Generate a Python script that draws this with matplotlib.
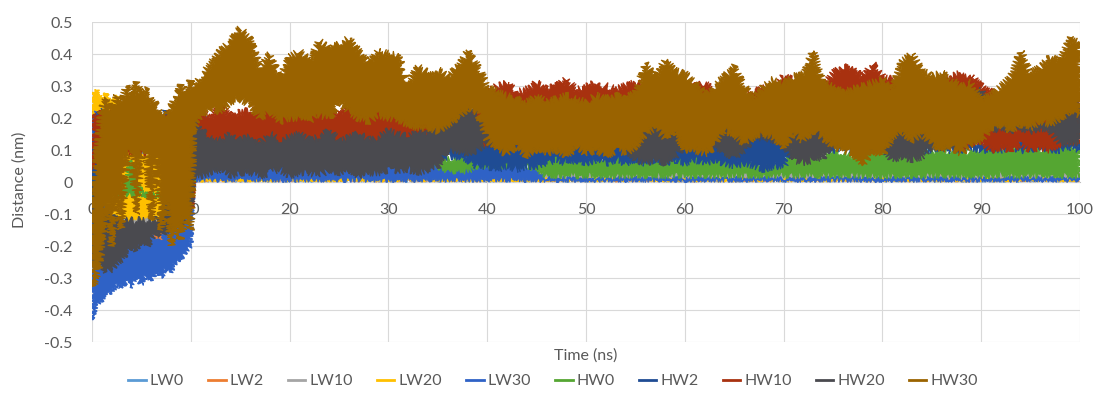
import numpy as np
import matplotlib
matplotlib.use("Agg")
import matplotlib.pyplot as plt
from matplotlib.lines import Line2D

# ─────────────────────────────────────────
# Data: lower / upper extent of each trace
# (0-10 ns every 0.5 ns, then 10.3 ns, then every 1 ns up to 100 ns)
# ─────────────────────────────────────────
time_ns = list(np.arange(0, 10.01, 0.5)) + [10.3] + list(range(11, 101))

series_names = ["LW0", "LW2", "LW10", "LW20", "LW30",
                "HW0", "HW2", "HW10", "HW20", "HW30"]

lw0_lo = [-0.25, -0.22, -0.2, -0.22, -0.2, -0.18, -0.2, -0.19, -0.18, -0.2, -0.17, -0.19, -0.18, -0.16, -0.17, -0.15, -0.16, -0.14, -0.13, -0.12, -0.1, 0.006,
          0.006, 0.005, 0.007, 0.005, 0.006, 0.006, 0.006, 0.005, 0.007, 0.005,
          0.006, 0.005, 0.007, 0.005, 0.006, 0.006, 0.006, 0.005, 0.007, 0.005,
          0.006, 0.005, 0.007, 0.005, 0.006, 0.006, 0.006, 0.005, 0.007, 0.005,
          0.006, 0.005, 0.007, 0.005, 0.006, 0.006, 0.006, 0.005, 0.007, 0.005,
          0.006, 0.005, 0.007, 0.005, 0.006, 0.006, 0.006, 0.005, 0.007, 0.005,
          0.006, 0.005, 0.007, 0.005, 0.006, 0.006, 0.006, 0.005, 0.007, 0.005,
          0.006, 0.005, 0.007, 0.005, 0.006, 0.006, 0.006, 0.005, 0.007, 0.005,
          0.006, 0.005, 0.007, 0.005, 0.006, 0.006, 0.006, 0.005, 0.007, 0.005,
          0.006, 0.005, 0.007, 0.005, 0.006, 0.006, 0.006, 0.005, 0.007, 0.005]
lw0_hi = [0.15, 0.18, 0.16, 0.14, 0.15, 0.12, 0.14, 0.13, 0.12, 0.1, 0.12, 0.11, 0.1, 0.12, 0.1, 0.09, 0.1, 0.08, 0.07, 0.06, 0.05, 0.03,
          0.025, 0.03, 0.022, 0.028, 0.03, 0.024, 0.027, 0.031, 0.025, 0.028,
          0.025, 0.03, 0.022, 0.028, 0.03, 0.024, 0.027, 0.031, 0.025, 0.028,
          0.025, 0.03, 0.022, 0.028, 0.03, 0.024, 0.027, 0.031, 0.025, 0.028,
          0.025, 0.03, 0.022, 0.028, 0.03, 0.024, 0.027, 0.031, 0.025, 0.028,
          0.025, 0.03, 0.022, 0.028, 0.03, 0.024, 0.027, 0.031, 0.025, 0.028,
          0.025, 0.03, 0.022, 0.028, 0.03, 0.024, 0.027, 0.031, 0.025, 0.028,
          0.025, 0.03, 0.022, 0.028, 0.03, 0.024, 0.027, 0.031, 0.025, 0.028,
          0.025, 0.03, 0.022, 0.028, 0.03, 0.024, 0.027, 0.031, 0.025, 0.028,
          0.025, 0.03, 0.022, 0.028, 0.03, 0.024, 0.027, 0.031, 0.025, 0.028]

lw2_lo = [-0.22, -0.2, -0.21, -0.19, -0.2, -0.18, -0.19, -0.2, -0.18, -0.19, -0.2, -0.21, -0.2, -0.22, -0.21, -0.19, -0.18, -0.17, -0.15, -0.14, -0.12, 0.006,
          0.006, 0.007, 0.006, 0.007, 0.006, 0.007, 0.006, 0.007, 0.006, 0.007,
          0.006, 0.007, 0.006, 0.007, 0.006, 0.007, 0.006, 0.007, 0.006, 0.007,
          0.006, 0.007, 0.006, 0.007, 0.006, 0.007, 0.006, 0.007, 0.006, 0.007,
          0.006, 0.007, 0.006, 0.007, 0.006, 0.007, 0.006, 0.007, 0.006, 0.007,
          0.006, 0.007, 0.006, 0.007, 0.006, 0.007, 0.006, 0.007, 0.006, 0.007,
          0.006, 0.007, 0.006, 0.007, 0.006, 0.007, 0.006, 0.007, 0.006, 0.007,
          0.006, 0.007, 0.006, 0.007, 0.006, 0.007, 0.006, 0.007, 0.006, 0.007,
          0.006, 0.007, 0.006, 0.007, 0.006, 0.007, 0.006, 0.007, 0.006, 0.007,
          0.006, 0.007, 0.006, 0.007, 0.006, 0.007, 0.006, 0.007, 0.006, 0.007]
lw2_hi = [0.12, 0.1, 0.12, 0.11, 0.1, 0.09, 0.1, 0.08, 0.1, 0.09, 0.08, 0.07, 0.06, 0.05, 0.04, 0.05, 0.06, 0.05, 0.04, 0.03, 0.03, 0.025,
          0.02, 0.024, 0.019, 0.022, 0.025, 0.02, 0.023, 0.021, 0.024, 0.02,
          0.02, 0.024, 0.019, 0.022, 0.025, 0.02, 0.023, 0.021, 0.024, 0.02,
          0.02, 0.024, 0.019, 0.022, 0.025, 0.02, 0.023, 0.021, 0.024, 0.02,
          0.02, 0.024, 0.019, 0.022, 0.025, 0.02, 0.023, 0.021, 0.024, 0.02,
          0.02, 0.024, 0.019, 0.022, 0.025, 0.02, 0.023, 0.021, 0.024, 0.02,
          0.02, 0.024, 0.019, 0.022, 0.025, 0.02, 0.023, 0.021, 0.024, 0.02,
          0.02, 0.024, 0.019, 0.022, 0.025, 0.02, 0.023, 0.021, 0.024, 0.02,
          0.02, 0.024, 0.019, 0.022, 0.025, 0.02, 0.023, 0.021, 0.024, 0.02,
          0.02, 0.024, 0.019, 0.022, 0.025, 0.02, 0.023, 0.021, 0.024, 0.02]

lw10_lo = [-0.2, -0.18, -0.19, -0.17, -0.18, -0.16, -0.17, -0.15, -0.16, -0.14, -0.15, -0.13, -0.14, -0.12, -0.13, -0.11, -0.12, -0.1, -0.09, -0.08, -0.06, 0.006,
           0.006, 0.005, 0.007, 0.006, 0.005, 0.006, 0.007, 0.005, 0.006, 0.005,
           0.006, 0.005, 0.007, 0.006, 0.005, 0.006, 0.007, 0.005, 0.006, 0.005,
           0.006, 0.005, 0.007, 0.006, 0.005, 0.006, 0.007, 0.005, 0.006, 0.005,
           0.006, 0.005, 0.007, 0.006, 0.005, 0.006, 0.007, 0.005, 0.006, 0.005,
           0.006, 0.005, 0.007, 0.006, 0.005, 0.006, 0.007, 0.005, 0.006, 0.005,
           0.006, 0.005, 0.007, 0.006, 0.005, 0.006, 0.007, 0.005, 0.006, 0.005,
           0.006, 0.005, 0.007, 0.006, 0.005, 0.006, 0.007, 0.005, 0.006, 0.005,
           0.006, 0.005, 0.007, 0.006, 0.005, 0.006, 0.007, 0.005, 0.006, 0.005,
           0.006, 0.005, 0.007, 0.006, 0.005, 0.006, 0.007, 0.005, 0.006, 0.005]
lw10_hi = [0.15, 0.14, 0.12, 0.13, 0.11, 0.12, 0.1, 0.11, 0.09, 0.1, 0.08, 0.09, 0.07, 0.08, 0.06, 0.07, 0.05, 0.06, 0.05, 0.04, 0.04, 0.03,
           0.028, 0.024, 0.03, 0.026, 0.032, 0.025, 0.029, 0.027, 0.031, 0.026,
           0.028, 0.024, 0.03, 0.026, 0.032, 0.025, 0.029, 0.027, 0.031, 0.026,
           0.028, 0.024, 0.03, 0.026, 0.032, 0.025, 0.029, 0.027, 0.031, 0.026,
           0.028, 0.024, 0.03, 0.026, 0.032, 0.025, 0.029, 0.027, 0.031, 0.026,
           0.028, 0.024, 0.03, 0.026, 0.032, 0.025, 0.029, 0.027, 0.031, 0.026,
           0.028, 0.024, 0.03, 0.026, 0.032, 0.025, 0.029, 0.027, 0.031, 0.026,
           0.028, 0.024, 0.03, 0.026, 0.032, 0.025, 0.029, 0.027, 0.031, 0.026,
           0.028, 0.024, 0.03, 0.026, 0.032, 0.025, 0.029, 0.027, 0.031, 0.026,
           0.028, 0.024, 0.03, 0.026, 0.032, 0.025, 0.029, 0.027, 0.031, 0.026]

lw20_lo = [-0.14, -0.12, -0.1, -0.12, -0.1, -0.12, -0.11, -0.12, -0.12, -0.11, -0.12, -0.11, -0.12, -0.12, -0.1, -0.12, -0.15, -0.13, -0.1, -0.08, -0.06, 0.006,
           0.006, 0.007, 0.006, 0.006, 0.007, 0.006, 0.007, 0.006, 0.006, 0.007,
           0.006, 0.007, 0.006, 0.006, 0.007, 0.006, 0.007, 0.006, 0.006, 0.007,
           0.006, 0.007, 0.006, 0.006, 0.007, 0.006, 0.007, 0.006, 0.006, 0.007,
           0.006, 0.007, 0.006, 0.006, 0.007, 0.006, 0.007, 0.006, 0.006, 0.007,
           0.006, 0.007, 0.006, 0.006, 0.007, 0.006, 0.007, 0.006, 0.006, 0.007,
           0.006, 0.007, 0.006, 0.006, 0.007, 0.006, 0.007, 0.006, 0.006, 0.007,
           0.006, 0.007, 0.006, 0.006, 0.007, 0.006, 0.007, 0.006, 0.006, 0.007,
           0.006, 0.007, 0.006, 0.006, 0.007, 0.006, 0.007, 0.006, 0.006, 0.007,
           0.006, 0.007, 0.006, 0.006, 0.007, 0.006, 0.007, 0.006, 0.006, 0.007]
lw20_hi = [0.28, 0.29, 0.26, 0.28, 0.25, 0.27, 0.22, 0.1, 0.09, 0.08, 0.09, 0.08, 0.08, 0.09, 0.08, 0.06, 0.04, 0.02, 0.03, 0.02, 0.02, 0.008,
           0.008, 0.007, 0.008, 0.008, 0.007, 0.008, 0.008, 0.007, 0.008, 0.008,
           0.008, 0.007, 0.008, 0.008, 0.007, 0.008, 0.008, 0.007, 0.008, 0.008,
           0.008, 0.007, 0.008, 0.008, 0.007, 0.008, 0.008, 0.007, 0.008, 0.008,
           0.008, 0.007, 0.008, 0.008, 0.007, 0.008, 0.008, 0.007, 0.008, 0.008,
           0.008, 0.007, 0.008, 0.008, 0.007, 0.008, 0.008, 0.007, 0.008, 0.008,
           0.008, 0.007, 0.008, 0.008, 0.007, 0.008, 0.008, 0.007, 0.008, 0.008,
           0.008, 0.007, 0.008, 0.008, 0.007, 0.008, 0.008, 0.007, 0.008, 0.008,
           0.008, 0.007, 0.008, 0.008, 0.007, 0.008, 0.008, 0.007, 0.008, 0.008,
           0.008, 0.007, 0.008, 0.008, 0.007, 0.008, 0.008, 0.007, 0.008, 0.008]

lw30_lo = [-0.43, -0.38, -0.37, -0.34, -0.35, -0.32, -0.33, -0.31, -0.33, -0.3, -0.32, -0.29, -0.31, -0.28, -0.3, -0.27, -0.28, -0.25, -0.24, -0.22, -0.2, 0.006,
           0.006, 0.007, 0.006, 0.008, 0.007, 0.006, 0.008, 0.006, 0.007, 0.006,
           0.006, 0.007, 0.006, 0.008, 0.007, 0.006, 0.008, 0.006, 0.007, 0.006,
           0.006, 0.007, 0.006, 0.008, 0.007, 0.006, 0.008, 0.006, 0.007, 0.006,
           0.007, 0.006, 0.008, 0.006, 0.007, 0.006, 0.006, 0.007, 0.006, 0.006,
           0.006, 0.007, 0.006, 0.006, 0.007, 0.006, 0.006, 0.007, 0.006, 0.006,
           0.006, 0.007, 0.006, 0.006, 0.007, 0.006, 0.006, 0.007, 0.006, 0.006,
           0.006, 0.007, 0.006, 0.006, 0.007, 0.006, 0.006, 0.007, 0.006, 0.006,
           0.006, 0.007, 0.006, 0.006, 0.007, 0.006, 0.006, 0.007, 0.006, 0.006,
           0.006, 0.007, 0.006, 0.006, 0.007, 0.006, 0.006, 0.007, 0.006, 0.006]
lw30_hi = [0.2, 0.22, 0.1, -0.1, -0.12, -0.13, -0.15, -0.14, -0.15, -0.16, -0.15, -0.17, -0.16, -0.19, -0.18, -0.15, -0.14, -0.12, -0.1, -0.08, -0.06, 0.05,
           0.05, 0.06, 0.055, 0.07, 0.05, 0.06, 0.065, 0.05, 0.06, 0.055,
           0.06, 0.05, 0.065, 0.055, 0.06, 0.07, 0.05, 0.06, 0.055, 0.065,
           0.055, 0.06, 0.05, 0.065, 0.06, 0.05, 0.055, 0.06, 0.065, 0.06,
           0.055, 0.06, 0.05, 0.045, 0.04, 0.012, 0.01, 0.011, 0.009, 0.01,
           0.01, 0.009, 0.011, 0.01, 0.012, 0.009, 0.01, 0.011, 0.01, 0.009,
           0.01, 0.009, 0.011, 0.01, 0.012, 0.009, 0.01, 0.011, 0.01, 0.009,
           0.01, 0.009, 0.011, 0.01, 0.012, 0.009, 0.01, 0.011, 0.01, 0.009,
           0.01, 0.009, 0.011, 0.01, 0.012, 0.009, 0.01, 0.011, 0.01, 0.009,
           0.01, 0.009, 0.011, 0.01, 0.012, 0.009, 0.01, 0.011, 0.01, 0.009]

hw0_lo = [-0.04, -0.04, -0.04, -0.04, -0.04, -0.04, -0.04, -0.04, -0.04, -0.04, -0.04, -0.04, -0.04, -0.04, -0.04, -0.04, -0.04, -0.04, -0.04, -0.04, -0.04, 0.06,
          0.06, 0.065, 0.06, 0.065, 0.06, 0.065, 0.06, 0.065, 0.06, 0.065,
          0.06, 0.065, 0.06, 0.065, 0.06, 0.065, 0.06, 0.065, 0.06, 0.065,
          0.06, 0.06, 0.06, 0.06, 0.05, 0.035, 0.035, 0.035, 0.05, 0.05,
          0.05, 0.05, 0.05, 0.05, 0.04, 0.022, 0.02, 0.022, 0.02, 0.022,
          0.02, 0.022, 0.02, 0.021, 0.022, 0.02, 0.022, 0.02, 0.021, 0.02,
          0.02, 0.022, 0.02, 0.021, 0.022, 0.02, 0.022, 0.02, 0.021, 0.02,
          0.02, 0.022, 0.02, 0.021, 0.022, 0.02, 0.022, 0.02, 0.021, 0.02,
          0.02, 0.022, 0.02, 0.021, 0.022, 0.02, 0.022, 0.02, 0.021, 0.02,
          0.02, 0.022, 0.02, 0.021, 0.022, 0.02, 0.022, 0.02, 0.021, 0.02]
hw0_hi = [0.07, 0.06, -0.04, -0.04, -0.04, -0.04, -0.04, 0.0, 0.07, 0.0, -0.04, -0.04, -0.04, -0.04, -0.04, -0.04, -0.04, -0.04, -0.04, -0.04, -0.04, 0.1,
          0.1, 0.09, 0.1, 0.09, 0.1, 0.09, 0.1, 0.09, 0.1, 0.09,
          0.1, 0.09, 0.1, 0.09, 0.1, 0.09, 0.1, 0.09, 0.1, 0.09,
          0.1, 0.09, 0.1, 0.09, 0.08, 0.07, 0.075, 0.07, 0.06, 0.06,
          0.06, 0.06, 0.06, 0.06, 0.06, 0.07, 0.08, 0.07, 0.08, 0.07,
          0.08, 0.07, 0.08, 0.09, 0.07, 0.08, 0.07, 0.08, 0.09, 0.08,
          0.08, 0.07, 0.09, 0.08, 0.07, 0.06, 0.05, 0.06, 0.05, 0.07,
          0.09, 0.08, 0.09, 0.08, 0.1, 0.09, 0.08, 0.1, 0.09, 0.1,
          0.09, 0.1, 0.09, 0.1, 0.09, 0.1, 0.09, 0.1, 0.09, 0.1,
          0.11, 0.1, 0.11, 0.1, 0.11, 0.1, 0.11, 0.1, 0.11, 0.1]

hw2_lo = [0.0, 0.02, 0.1, 0.12, 0.14, 0.15, 0.14, 0.12, 0.1, 0.12, 0.1, 0.11, 0.1, 0.12, 0.14, 0.15, 0.1, 0.05, 0.02, 0.02, 0.02, 0.03,
          0.05, 0.06, 0.05, 0.06, 0.05, 0.06, 0.05, 0.06, 0.05, 0.06,
          0.05, 0.06, 0.05, 0.06, 0.05, 0.06, 0.05, 0.06, 0.05, 0.06,
          0.05, 0.06, 0.05, 0.06, 0.07, 0.08, 0.08, 0.07, 0.05, 0.05,
          0.04, 0.05, 0.04, 0.05, 0.05, 0.06, 0.07, 0.06, 0.07, 0.06,
          0.07, 0.06, 0.07, 0.06, 0.07, 0.06, 0.07, 0.06, 0.07, 0.06,
          0.07, 0.06, 0.07, 0.06, 0.05, 0.06, 0.05, 0.04, 0.05, 0.05,
          0.1, 0.1, 0.11, 0.1, 0.1, 0.11, 0.1, 0.1, 0.11, 0.1,
          0.1, 0.1, 0.11, 0.1, 0.1, 0.11, 0.1, 0.1, 0.11, 0.1,
          0.1, 0.1, 0.11, 0.1, 0.1, 0.11, 0.1, 0.1, 0.11, 0.1]
hw2_hi = [0.06, 0.2, 0.22, 0.23, 0.2, 0.22, 0.2, 0.18, 0.2, 0.22, 0.2, 0.18, 0.2, 0.22, 0.2, 0.22, 0.2, 0.21, 0.22, 0.2, 0.22, 0.22,
          0.22, 0.17, 0.16, 0.17, 0.16, 0.17, 0.16, 0.17, 0.16, 0.17,
          0.16, 0.17, 0.16, 0.17, 0.16, 0.17, 0.16, 0.17, 0.16, 0.17,
          0.16, 0.17, 0.16, 0.17, 0.16, 0.15, 0.16, 0.17, 0.18, 0.2,
          0.18, 0.2, 0.17, 0.19, 0.18, 0.17, 0.16, 0.15, 0.16, 0.17,
          0.16, 0.15, 0.16, 0.17, 0.15, 0.16, 0.15, 0.16, 0.17, 0.18,
          0.17, 0.16, 0.15, 0.14, 0.15, 0.14, 0.15, 0.16, 0.15, 0.14,
          0.13, 0.12, 0.13, 0.12, 0.13, 0.12, 0.13, 0.12, 0.13, 0.12,
          0.13, 0.12, 0.13, 0.12, 0.13, 0.12, 0.13, 0.12, 0.13, 0.12,
          0.13, 0.12, 0.13, 0.12, 0.13, 0.12, 0.13, 0.12, 0.13, 0.12]

hw10_lo = [0.05, 0.05, 0.08, 0.08, 0.1, 0.08, 0.09, 0.09, 0.09, 0.09, 0.09, 0.09, 0.09, 0.1, 0.1, 0.08, 0.02, -0.02, -0.05, -0.06, -0.08, 0.08,
           0.08, 0.09, 0.08, 0.1, 0.09, 0.08, 0.1, 0.09, 0.08, 0.09,
           0.09, 0.08, 0.1, 0.09, 0.08, 0.1, 0.09, 0.08, 0.1, 0.09,
           0.09, 0.08, 0.1, 0.09, 0.1, 0.12, 0.12, 0.13, 0.12, 0.12,
           0.12, 0.13, 0.12, 0.12, 0.13, 0.12, 0.13, 0.12, 0.12, 0.13,
           0.12, 0.13, 0.12, 0.13, 0.12, 0.16, 0.17, 0.15, 0.16, 0.12,
           0.12, 0.13, 0.12, 0.16, 0.15, 0.13, 0.15, 0.15, 0.14, 0.12,
           0.15, 0.14, 0.16, 0.14, 0.12, 0.12, 0.13, 0.12, 0.12, 0.13,
           0.14, 0.16, 0.13, 0.15, 0.12, 0.12, 0.13, 0.1, 0.12, 0.13,
           0.1, 0.11, 0.1, 0.12, 0.1, 0.11, 0.1, 0.12, 0.13, 0.12]
hw10_hi = [0.22, 0.2, 0.22, 0.21, 0.22, 0.2, 0.19, 0.18, 0.13, 0.12, 0.13, 0.13, 0.12, 0.14, 0.17, 0.2, 0.22, 0.21, 0.23, 0.22, 0.22, 0.24,
           0.22, 0.2, 0.24, 0.21, 0.22, 0.22, 0.25, 0.23, 0.24, 0.22,
           0.24, 0.25, 0.23, 0.22, 0.21, 0.24, 0.26, 0.23, 0.25, 0.27,
           0.24, 0.26, 0.22, 0.2, 0.21, 0.22, 0.2, 0.23, 0.22, 0.28,
           0.3, 0.31, 0.28, 0.29, 0.31, 0.29, 0.3, 0.32, 0.29, 0.3,
           0.31, 0.3, 0.29, 0.3, 0.31, 0.3, 0.29, 0.28, 0.3, 0.31,
           0.3, 0.31, 0.29, 0.28, 0.3, 0.27, 0.28, 0.3, 0.29, 0.33,
           0.32, 0.3, 0.31, 0.3, 0.34, 0.36, 0.35, 0.33, 0.37, 0.33,
           0.32, 0.3, 0.31, 0.3, 0.32, 0.3, 0.33, 0.34, 0.33, 0.3,
           0.28, 0.27, 0.29, 0.28, 0.3, 0.28, 0.27, 0.29, 0.3, 0.28]

hw20_lo = [-0.25, -0.24, -0.26, -0.28, -0.27, -0.25, -0.24, -0.22, -0.2, -0.21, -0.19, -0.2, -0.18, -0.16, -0.17, -0.15, -0.14, -0.12, -0.13, -0.1, -0.08, 0.02,
           0.02, 0.03, 0.04, 0.02, 0.03, 0.03, 0.02, 0.03, 0.04, 0.02,
           0.03, 0.03, 0.02, 0.04, 0.03, 0.04, 0.02, 0.03, 0.03, 0.04,
           0.03, 0.04, 0.03, 0.04, 0.05, 0.1, 0.1, 0.09, 0.1, 0.12,
           0.12, 0.11, 0.12, 0.12, 0.11, 0.12, 0.11, 0.12, 0.12, 0.11,
           0.12, 0.11, 0.12, 0.11, 0.07, 0.06, 0.07, 0.06, 0.08, 0.12,
           0.12, 0.11, 0.12, 0.09, 0.08, 0.1, 0.14, 0.14, 0.13, 0.12,
           0.07, 0.06, 0.07, 0.08, 0.12, 0.11, 0.12, 0.11, 0.12, 0.11,
           0.07, 0.08, 0.07, 0.08, 0.11, 0.11, 0.12, 0.11, 0.2, 0.22,
           0.16, 0.17, 0.16, 0.17, 0.16, 0.17, 0.16, 0.12, 0.12, 0.13]
hw20_hi = [0.0, -0.05, -0.08, -0.1, -0.1, -0.12, -0.12, -0.12, -0.12, -0.12, -0.12, -0.12, -0.12, -0.12, -0.1, -0.05, 0.05, 0.12, 0.17, 0.2, 0.21, 0.2,
           0.16, 0.14, 0.13, 0.15, 0.13, 0.14, 0.12, 0.15, 0.13, 0.14,
           0.15, 0.13, 0.14, 0.16, 0.13, 0.14, 0.15, 0.13, 0.14, 0.16,
           0.15, 0.14, 0.16, 0.15, 0.17, 0.2, 0.22, 0.24, 0.21, 0.15,
           0.14, 0.13, 0.14, 0.13, 0.14, 0.13, 0.14, 0.13, 0.14, 0.13,
           0.14, 0.13, 0.14, 0.13, 0.17, 0.19, 0.18, 0.19, 0.16, 0.14,
           0.13, 0.14, 0.13, 0.2, 0.19, 0.15, 0.15, 0.15, 0.14, 0.13,
           0.19, 0.2, 0.21, 0.18, 0.13, 0.14, 0.13, 0.14, 0.13, 0.14,
           0.18, 0.17, 0.19, 0.16, 0.13, 0.14, 0.13, 0.14, 0.27, 0.29,
           0.17, 0.18, 0.17, 0.18, 0.17, 0.18, 0.19, 0.24, 0.23, 0.25]

hw30_lo = [-0.33, -0.3, -0.22, -0.05, -0.2, -0.03, -0.15, 0.09, 0.1, -0.1, 0.09, 0.1, -0.12, 0.08, -0.15, -0.05, -0.2, -0.12, -0.18, -0.1, -0.15, 0.17,
           0.2, 0.23, 0.22, 0.25, 0.26, 0.24, 0.2, 0.22, 0.19, 0.2,
           0.2, 0.19, 0.21, 0.2, 0.25, 0.22, 0.2, 0.19, 0.21, 0.2,
           0.19, 0.18, 0.17, 0.17, 0.16, 0.18, 0.2, 0.23, 0.22, 0.13,
           0.1, 0.09, 0.11, 0.08, 0.1, 0.09, 0.1, 0.08, 0.11, 0.09,
           0.1, 0.08, 0.1, 0.09, 0.11, 0.15, 0.17, 0.14, 0.16, 0.1,
           0.1, 0.09, 0.11, 0.16, 0.15, 0.12, 0.14, 0.15, 0.14, 0.11,
           0.15, 0.13, 0.16, 0.14, 0.11, 0.1, 0.09, 0.05, 0.1, 0.08,
           0.14, 0.16, 0.13, 0.15, 0.12, 0.1, 0.11, 0.09, 0.12, 0.13,
           0.17, 0.18, 0.16, 0.18, 0.17, 0.19, 0.18, 0.2, 0.22, 0.21]
hw30_hi = [-0.05, 0.1, 0.24, 0.26, 0.22, 0.27, 0.25, 0.3, 0.27, 0.31, 0.28, 0.29, 0.26, 0.24, 0.22, 0.21, 0.24, 0.27, 0.3, 0.28, 0.32, 0.3,
           0.33, 0.37, 0.41, 0.44, 0.48, 0.45, 0.36, 0.40, 0.33, 0.39,
           0.41, 0.38, 0.44, 0.42, 0.43, 0.45, 0.41, 0.37, 0.41, 0.40,
           0.40, 0.31, 0.36, 0.34, 0.35, 0.33, 0.36, 0.41, 0.37, 0.30,
           0.28, 0.27, 0.26, 0.25, 0.27, 0.25, 0.26, 0.27, 0.26, 0.25,
           0.27, 0.26, 0.27, 0.26, 0.28, 0.37, 0.33, 0.38, 0.35, 0.34,
           0.31, 0.28, 0.30, 0.33, 0.36, 0.30, 0.26, 0.30, 0.32, 0.31,
           0.33, 0.34, 0.41, 0.31, 0.30, 0.28, 0.29, 0.30, 0.31, 0.32,
           0.29, 0.38, 0.40, 0.35, 0.33, 0.34, 0.32, 0.30, 0.31, 0.26,
           0.27, 0.30, 0.33, 0.41, 0.34, 0.36, 0.39, 0.38, 0.45, 0.43]

series_lo = [lw0_lo, lw2_lo, lw10_lo, lw20_lo, lw30_lo, hw0_lo, hw2_lo, hw10_lo, hw20_lo, hw30_lo]
series_hi = [lw0_hi, lw2_hi, lw10_hi, lw20_hi, lw30_hi, hw0_hi, hw2_hi, hw10_hi, hw20_hi, hw30_hi]

y_ticks = [-0.5, -0.4, -0.3, -0.2, -0.1, 0, 0.1, 0.2, 0.3, 0.4, 0.5]
y_tick_labels = ["-0.5", "-0.4", "-0.3", "-0.2", "-0.1", "0", "0.1", "0.2", "0.3", "0.4", "0.5"]
x_ticks = [0, 10, 20, 30, 40, 50, 60, 70, 80, 90, 100]

# Excel-like palette as it shows in the picture
colors = ["#5B9BD5", "#ED7D31", "#A5A5A5", "#FFC000", "#2F62C6",
          "#55A632", "#1F4C94", "#A8310F", "#4A4A4F", "#9A6300"]
# wiggle (px) of the drawn outline; the thin near-zero LW traces get less
jitter = [2, 2, 2, 2, 2.5, 3.5, 4, 4, 4, 4]

TEXT = "#595959"
GRID = "#D9D9D9"

plt.rcParams["font.family"] = ["Lato", "DejaVu Sans"]

fig = plt.figure(figsize=(10.99, 4.07), dpi=100)
ax = fig.add_axes([0.0837, 0.1597, 0.8990, 0.7862])

t = np.asarray(time_ns)
for lo, hi, c, jit in zip(series_lo, series_hi, colors, jitter):
    assert len(lo) == len(t) and len(hi) == len(t)
    # band between lower and upper extent as one polygon
    xs = np.concatenate([t, t[::-1]])
    ys = np.concatenate([np.asarray(hi), np.asarray(lo)[::-1]])
    band, = ax.fill(xs, ys, color=c, linewidth=0.8)
    band.set_sketch_params(scale=jit, length=2, randomness=3)  # ragged MD-trace edge

ax.set_xlim(0, 100)
ax.set_ylim(-0.5, 0.5)
ax.set_yticks(y_ticks)
ax.set_yticklabels(y_tick_labels)
ax.set_xticks(x_ticks)
ax.grid(True, color=GRID, lw=0.8)
ax.set_axisbelow(True)

for side in ["top", "right", "left"]:
    ax.spines[side].set_visible(False)
ax.spines["bottom"].set_position(("data", 0))
ax.spines["bottom"].set_color("#BFBFBF")
ax.spines["bottom"].set_zorder(0)

ax.tick_params(axis="x", length=0, pad=15, labelsize=11.5, labelcolor=TEXT)
ax.tick_params(axis="y", length=0, pad=14, labelsize=11.5, labelcolor=TEXT)

fig.text(20 / 1099, 1 - 180 / 407, "Distance (nm)", rotation=90,
         ha="center", va="center", fontsize=11.5, color=TEXT)
fig.text(586 / 1099, 1 - 356 / 407, "Time (ns)",
         ha="center", va="center", fontsize=11.5, color=TEXT)

handles = [Line2D([], [], color=c, lw=2) for c in colors]
leg = fig.legend(handles, series_names, loc="center",
                 bbox_to_anchor=(553 / 1099, 1 - 381 / 407), ncol=10,
                 frameon=False, fontsize=11.5, handlelength=1.1,
                 handletextpad=0.25, columnspacing=1.5)
for txt in leg.get_texts():
    txt.set_color(TEXT)

fig.savefig("out.png", dpi=100)
